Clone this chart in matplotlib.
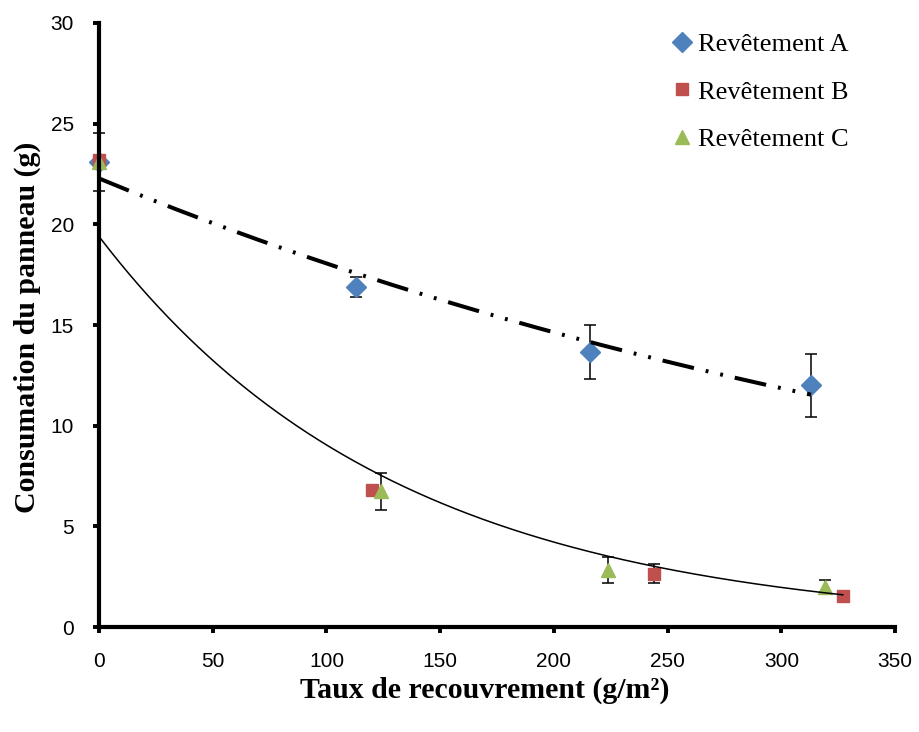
import numpy as np
import matplotlib
matplotlib.use("Agg")
import matplotlib.pyplot as plt

# ---- data ----
series_names = ["Revêtement A", "Revêtement B", "Revêtement C"]
x_A = [0, 113, 216, 313]
y_A = [23.1, 16.9, 13.65, 12.0]
err_A = [1.45, 0.5, 1.35, 1.55]

x_B = [0, 120, 244, 327]
y_B = [23.2, 6.8, 2.65, 1.55]
err_B = [0.0, 0.0, 0.47, 0.15]

x_C = [0, 124, 224, 319]
y_C = [23.1, 6.75, 2.85, 2.0]
err_C = [0.0, 0.92, 0.65, 0.33]

# exponential trendline for B/C (as drawn)
fit_BC_a = 19.4
fit_BC_b = 0.00763
fit_BC_xmax = 327

x_ticks = [0, 50, 100, 150, 200, 250, 300, 350]
y_ticks = [0, 5, 10, 15, 20, 25, 30]

xlabel = "Taux de recouvrement (g/m²)"
ylabel = "Consumation du panneau (g)"

colors = {"A": "#4F81BD", "B": "#C0504D", "C": "#9BBB59"}

fig = plt.figure(figsize=(9.19, 7.32), dpi=100)
ax = fig.add_axes([0.1077, 0.1434, 0.8663, 0.8252])

# error bars (behind markers)
for xs, ys, es in [(x_A, y_A, err_A), (x_B, y_B, err_B), (x_C, y_C, err_C)]:
    xs_e = [x for x, e in zip(xs, es) if e > 0]
    ys_e = [y for y, e in zip(ys, es) if e > 0]
    es_e = [e for e in es if e > 0]
    eb = ax.errorbar(xs_e, ys_e, yerr=es_e, fmt='none', ecolor='black',
                     elinewidth=1.1, capsize=4.3, capthick=1.1, zorder=2)
    for art in eb.lines[1] + eb.lines[2]:
        art.set_clip_on(False)

ax.plot(x_A, y_A, linestyle='none', marker='D', markersize=10,
        color=colors["A"], label=series_names[0], zorder=3, clip_on=False)
ax.plot(x_B, y_B, linestyle='none', marker='s', markersize=9,
        color=colors["B"], label=series_names[1], zorder=3, clip_on=False)
ax.plot(x_C, y_C, linestyle='none', marker='^', markersize=10,
        color=colors["C"], label=series_names[2], zorder=4, clip_on=False)

# trendline A: exponential fit of series A
bA, lnaA = np.polyfit(np.array(x_A, float), np.log(y_A), 1)
xa = np.linspace(min(x_A), max(x_A), 300)
ax.plot(xa, np.exp(lnaA) * np.exp(bA * xa), color='black', linewidth=2.9,
        dashes=(8, 3.0, 0.7, 3.0, 0.7, 3.0), zorder=5)

# trendline B/C
xb = np.linspace(0, fit_BC_xmax, 300)
ax.plot(xb, fit_BC_a * np.exp(-fit_BC_b * xb), color='black', linewidth=1.1,
        zorder=5)

ax.set_xlim(0, 350)
ax.set_ylim(0, 30)
ax.set_xticks(x_ticks)
ax.set_yticks(y_ticks)
for s in ['top', 'right']:
    ax.spines[s].set_visible(False)
for s in ['left', 'bottom']:
    ax.spines[s].set_linewidth(3.0)
    ax.spines[s].set_zorder(6)
ax.tick_params(axis='both', direction='out', length=4, width=2.8,
               labelsize=15, pad=14)
for lab in ax.get_xticklabels() + ax.get_yticklabels():
    lab.set_fontfamily('Liberation Sans')

fig.text(0.528, 0.057, xlabel, ha='center', va='center', fontsize=21.5,
         fontweight='bold', family='Liberation Serif')
fig.text(0.030, 0.553, ylabel, ha='center', va='center', rotation=90,
         fontsize=21.5, fontweight='bold', family='Liberation Serif')

leg = ax.legend(loc='upper left', bbox_to_anchor=(0.711, 0.984),
                bbox_transform=fig.transFigure, frameon=False,
                prop={'family': 'Liberation Serif', 'size': 19},
                handlelength=0.6, handletextpad=0.3, labelspacing=0.9,
                borderpad=0.3)

fig.savefig("out.png", dpi=100)
